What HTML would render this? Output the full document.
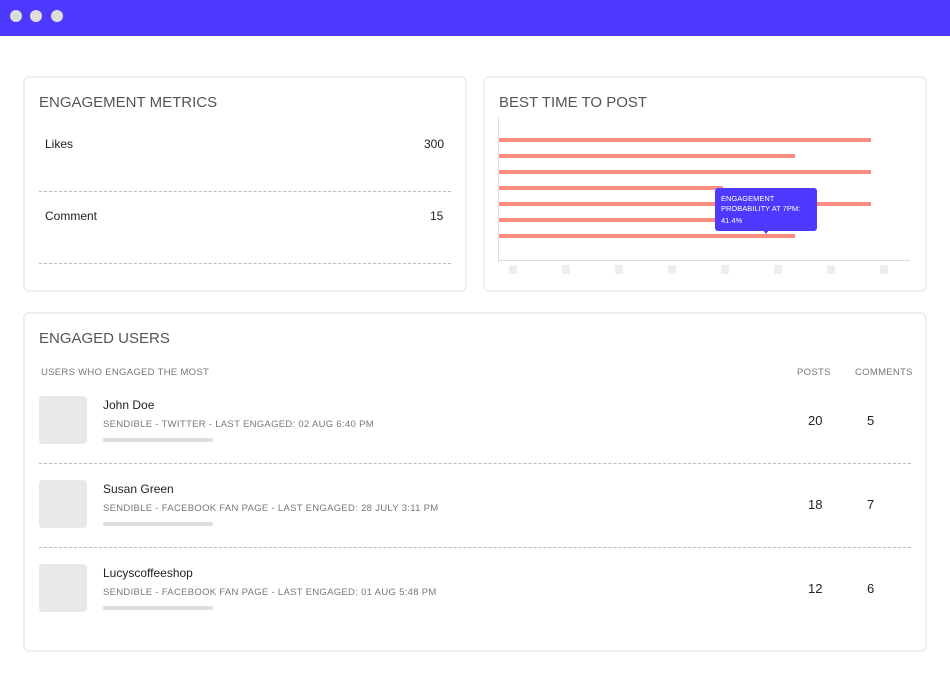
<!DOCTYPE html><html><head><style>
body{margin:0;width:950px;height:673px;background:#fff;font-family:"Liberation Sans",sans-serif;position:relative;overflow:hidden}
.a{position:absolute}
.card{position:absolute;border:2px solid #efefef;border-radius:6px;background:#fff;box-sizing:border-box}
.t{position:absolute;font-size:15px;color:#555;letter-spacing:0px}
.dash{position:absolute;border-top:1px dashed #bbb;height:0}
.s{font-size:13px;color:#222}
.sm{font-size:9.5px;color:#777;letter-spacing:0.3px}
.bar{position:absolute;left:499px;height:4px;background:#fa8f80}
.tk{position:absolute;top:265px;width:8px;height:9px;background:#eee;border-radius:1px}
.av{position:absolute;left:39px;width:48px;height:48px;background:#e8e8e8;border-radius:4px}
.gl{position:absolute;left:103px;width:110px;height:4px;background:#ddd;border-radius:2px}
</style></head><body>
<div class="a" style="left:0;top:0;width:950px;height:36px;background:#4d39ff"></div>
<div class="a" style="left:10px;top:10px;width:12px;height:12px;border-radius:50%;background:#ddd"></div>
<div class="a" style="left:30px;top:10px;width:12px;height:12px;border-radius:50%;background:#ddd"></div>
<div class="a" style="left:51px;top:10px;width:12px;height:12px;border-radius:50%;background:#ddd"></div>

<div class="card" style="left:23px;top:76px;width:444px;height:216px"></div>
<div class="t" style="left:39px;top:94px">ENGAGEMENT METRICS</div>
<div class="a s" style="left:45px;top:137px;font-size:12px">Likes</div>
<div class="a s" style="left:424px;top:137px;font-size:12px">300</div>
<div class="dash" style="left:39px;top:191px;width:412px"></div>
<div class="a s" style="left:45px;top:209px;font-size:12px">Comment</div>
<div class="a s" style="left:430px;top:209px;font-size:12px">15</div>
<div class="dash" style="left:39px;top:263px;width:412px"></div>

<div class="card" style="left:483px;top:76px;width:444px;height:216px"></div>
<div class="t" style="left:499px;top:94px">BEST TIME TO POST</div>
<div class="a" style="left:498px;top:118px;width:1px;height:144px;background:#ddd"></div>
<div class="a" style="left:498px;top:260px;width:412px;height:1px;background:#ddd"></div>
<div class="bar" style="top:138px;width:372px"></div>
<div class="bar" style="top:154px;width:296px"></div>
<div class="bar" style="top:170px;width:372px"></div>
<div class="bar" style="top:186px;width:224px"></div>
<div class="bar" style="top:202px;width:372px"></div>
<div class="bar" style="top:218px;width:224px"></div>
<div class="bar" style="top:234px;width:296px"></div>
<div class="tk" style="left:509px"></div><div class="tk" style="left:562px"></div><div class="tk" style="left:615px"></div><div class="tk" style="left:668px"></div><div class="tk" style="left:721px"></div><div class="tk" style="left:774px"></div><div class="tk" style="left:827px"></div><div class="tk" style="left:880px"></div>
<div class="a" style="left:715px;top:188px;width:102px;height:43px;background:#4d39ff;border-radius:3px;color:#fff;font-size:7.5px;line-height:10px;padding:6px 6px;box-sizing:border-box">ENGAGEMENT PROBABILITY AT 7PM:<br><span style="line-height:14px">41.4%</span></div>
<div class="a" style="left:763px;top:230px;width:0;height:0;border-left:3px solid transparent;border-right:3px solid transparent;border-top:4px solid #4d39ff"></div>

<div class="card" style="left:23px;top:312px;width:904px;height:340px"></div>
<div class="t" style="left:39px;top:330px">ENGAGED USERS</div>
<div class="a sm" style="left:41px;top:367px">USERS WHO ENGAGED THE MOST</div>
<div class="a sm" style="left:797px;top:367px">POSTS</div>
<div class="a sm" style="left:855px;top:367px">COMMENTS</div>

<div class="av" style="top:396px"></div>
<div class="a s" style="left:103px;top:398px;font-size:12px">John Doe</div>
<div class="a sm" style="left:103px;top:419px">SENDIBLE - TWITTER - LAST ENGAGED: 02 AUG 6:40 PM</div>
<div class="gl" style="top:438px"></div>
<div class="a s" style="left:808px;top:413px">20</div><div class="a s" style="left:867px;top:413px">5</div>
<div class="dash" style="left:39px;top:463px;width:872px"></div>

<div class="av" style="top:480px"></div>
<div class="a s" style="left:103px;top:482px;font-size:12px">Susan Green</div>
<div class="a sm" style="left:103px;top:503px">SENDIBLE - FACEBOOK FAN PAGE - LAST ENGAGED: 28 JULY 3:11 PM</div>
<div class="gl" style="top:522px"></div>
<div class="a s" style="left:808px;top:497px">18</div><div class="a s" style="left:867px;top:497px">7</div>
<div class="dash" style="left:39px;top:547px;width:872px"></div>

<div class="av" style="top:564px"></div>
<div class="a s" style="left:103px;top:566px;font-size:12px">Lucyscoffeeshop</div>
<div class="a sm" style="left:103px;top:587px">SENDIBLE - FACEBOOK FAN PAGE - LAST ENGAGED: 01 AUG 5:48 PM</div>
<div class="gl" style="top:606px"></div>
<div class="a s" style="left:808px;top:581px">12</div><div class="a s" style="left:867px;top:581px">6</div>
</body></html>
